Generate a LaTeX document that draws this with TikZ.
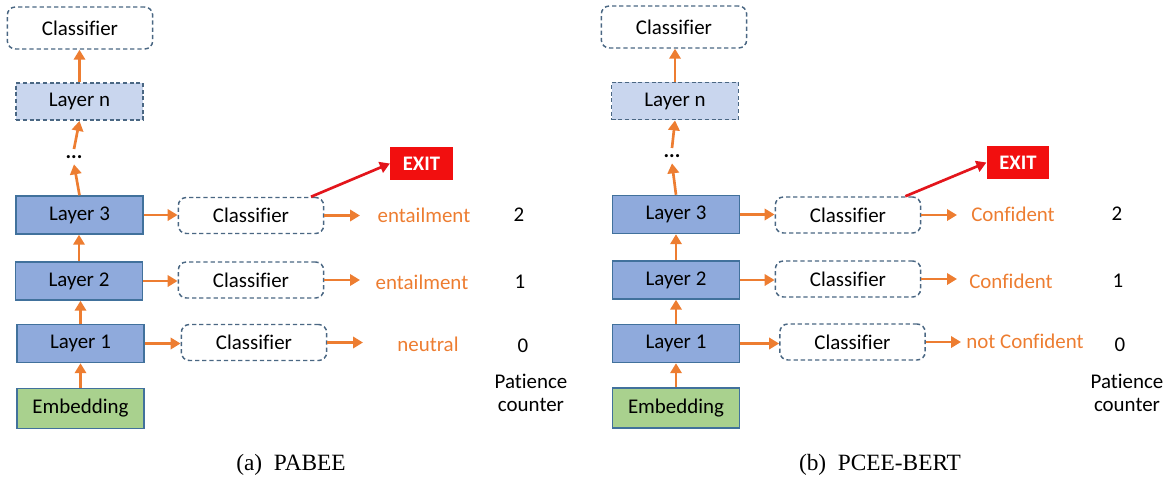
\documentclass[tikz,border=0pt]{standalone}
\usepackage{fontspec}
\setmainfont{Carlito}[Ligatures=NoCommon]
\newfontfamily\capfont{Liberation Serif}
\usetikzlibrary{arrows.meta}
\definecolor{orng}{HTML}{ED7D31}
\definecolor{bord}{HTML}{41719C}
\definecolor{dashb}{HTML}{4A6783}
\definecolor{layerf}{HTML}{8FAADC}
\definecolor{layernf}{HTML}{C9D6EE}
\definecolor{embf}{HTML}{A9D18E}
\definecolor{exitr}{HTML}{F20F0F}
\definecolor{redarr}{HTML}{E3151B}
\tikzset{
  txt/.style={font=\fontsize{15.7}{18}\selectfont, inner sep=0pt},
  layerbox/.style={txt, draw=bord, line width=1.1pt, fill=layerf, minimum width=95pt, minimum height=28.5pt},
  layernbox/.style={txt, draw=dashb, line width=1.1pt, dash pattern=on 3pt off 2pt, fill=layernf, minimum width=95pt, minimum height=28pt},
  embbox/.style={txt, draw=bord, line width=1.1pt, fill=embf, minimum width=95pt, minimum height=30pt},
  clsbox/.style={txt, draw=dashb, line width=1.1pt, dash pattern=on 3.2pt off 2.2pt, rounded corners=6pt, fill=white, minimum width=109pt, minimum height=27pt},
  topcls/.style={clsbox, minimum height=31.5pt},
  outtxt/.style={txt, text=orng},
  numtxt/.style={txt},
  exitbox/.style={fill=exitr, text=white, font=\bfseries\fontsize{15.5}{17}\selectfont, minimum width=47pt, minimum height=25pt, inner sep=0pt},
  oarr/.style={draw=orng, line width=2pt, -{Triangle[length=7.5pt,width=8.5pt]}},
  rarr/.style={draw=redarr, line width=2pt, -{Triangle[length=7.5pt,width=8.5pt]}},
  captxt/.style={font=\capfont\fontsize{17.5}{20}\selectfont, inner sep=0pt},
}
\begin{document}
\begin{tikzpicture}[x=0.75pt,y=-0.75pt]
\useasboundingbox (0,0) rectangle (1171,486);
% ---------- panel (a) ----------
\node[topcls] (aT) at (80,28) {Classifier};
\node[layernbox] (aN) at (79.5,101.5) {Layer n};
\node[txt, font=\bfseries\fontsize{15.7}{18}\selectfont] (aD) at (74,157) {...};
\node[layerbox] (a3) at (79.5,215) {Layer 3};
\node[layerbox] (a2) at (79,281) {Layer 2};
\node[layerbox] (a1) at (80.5,343.5) {Layer 1};
\node[embbox] (aE) at (80.5,408.5) {Embedding};
\node[clsbox] (ac3) at (251,215.5) {Classifier};
\node[clsbox] (ac2) at (251,280) {Classifier};
\node[clsbox] (ac1) at (254,342.5) {Classifier};
\node[outtxt] (ao3) at (424,215) {entailment};
\node[outtxt] (ao2) at (422,282) {entailment};
\node[outtxt] (ao1) at (428,344) {neutral};
\node[numtxt] (an3) at (519,215) {2};
\node[numtxt] (an2) at (520,282) {1};
\node[numtxt] (an1) at (523,346) {0};
\node[txt, align=center, font=\fontsize{15.7}{16.8}\selectfont] (aP) at (531,393) {Patience\\counter};
\node[exitbox] (aX) at (421.5,163.5) {EXIT};
\coordinate (at3) at (360,215.5);
\coordinate (at2) at (360,280);
\coordinate (at1) at (363,342.5);
\draw[oarr] (aE.north) -- (aE.north |- a1.south);
\draw[oarr] (a1.north) -- (a1.north |- a2.south);
\draw[oarr] (a2.north) -- (a2.north |- a3.south);
\draw[oarr] (a3.north) -- ([yshift=-5.5pt]aD.center);
\draw[oarr] ([yshift=6pt]aD.center) -- (aN.south);
\draw[oarr] (aN.north) -- (aN.north |- aT.south);
\draw[oarr] (a3.east) -- (a3.east -| ac3.west);
\draw[oarr] (a2.east) -- (a2.east -| ac2.west);
\draw[oarr] (a1.east) -- (a1.east -| ac1.west);
\draw[oarr] (ac3.east) -- (at3);
\draw[oarr] (ac2.east) -- (at2);
\draw[oarr] (ac1.east) -- (at1);
\draw[rarr] ([xshift=45pt]ac3.north) -- (aX.west);
% ---------- panel (b) ----------
\node[topcls] (bT) at (674,27) {Classifier};
\node[layernbox] (bN) at (675,101) {Layer n};
\node[txt, font=\bfseries\fontsize{15.7}{18}\selectfont] (bD) at (672,156) {...};
\node[layerbox] (b3) at (676,214.5) {Layer 3};
\node[layerbox] (b2) at (676,280) {Layer 2};
\node[layerbox] (b1) at (676,343.5) {Layer 1};
\node[embbox] (bE) at (676,408) {Embedding};
\node[clsbox] (bc3) at (848,215) {Classifier};
\node[clsbox] (bc2) at (848,279) {Classifier};
\node[clsbox] (bc1) at (852.5,342) {Classifier};
\node[outtxt] (bo3) at (1013,214) {Confident};
\node[outtxt] (bo2) at (1011,281) {Confident};
\node[outtxt] (bo1) at (1025,341) {not Confident};
\node[numtxt] (bn3) at (1117,214) {2};
\node[numtxt] (bn2) at (1118,281) {1};
\node[numtxt] (bn1) at (1120,345) {0};
\node[txt, align=center, font=\fontsize{15.7}{16.8}\selectfont] (bP) at (1127,393) {Patience\\counter};
\node[exitbox] (bX) at (1018,162.5) {EXIT};
\coordinate (bt3) at (957,215);
\coordinate (bt2) at (957,279);
\coordinate (bt1) at (961,342);
\draw[oarr] (bE.north) -- (bE.north |- b1.south);
\draw[oarr] (b1.north) -- (b1.north |- b2.south);
\draw[oarr] (b2.north) -- (b2.north |- b3.south);
\draw[oarr] (b3.north) -- ([yshift=-5.5pt]bD.center);
\draw[oarr] ([yshift=6pt]bD.center) -- (bN.south);
\draw[oarr] (bN.north) -- (bN.north |- bT.south);
\draw[oarr] (b3.east) -- (b3.east -| bc3.west);
\draw[oarr] (b2.east) -- (b2.east -| bc2.west);
\draw[oarr] (b1.east) -- (b1.east -| bc1.west);
\draw[oarr] (bc3.east) -- (bt3);
\draw[oarr] (bc2.east) -- (bt2);
\draw[oarr] (bc1.east) -- (bt1);
\draw[rarr] ([xshift=43pt]bc3.north) -- (bX.west);
% ---------- captions ----------
\node[captxt] (capa) at (291,465) {(a)\enspace PABEE};
\node[captxt] (capb) at (880,465) {(b)\enspace PCEE-BERT};
\end{tikzpicture}
\end{document}
